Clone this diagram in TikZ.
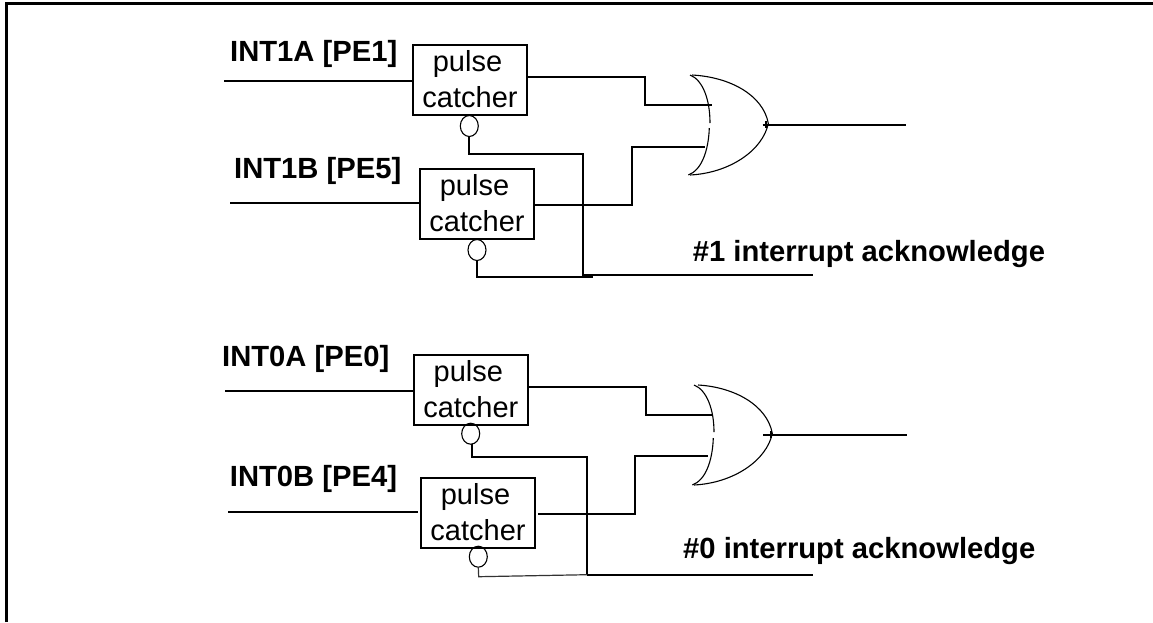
\documentclass[tikz,border=0pt]{standalone}
\usepackage{fontspec}
\setmainfont{Liberation Sans}
\usetikzlibrary{shapes.geometric}
\tikzset{
  wire/.style={line width=1.9pt},
  thinwire/.style={line width=1.2pt, draw=black!80},
  gateline/.style={line width=1.1pt},
  catcher/.style={draw, line width=1.9pt, rectangle, minimum width=114pt, minimum height=70pt, inner sep=0pt, align=center, font=\fontsize{29}{36}\selectfont},
  bubble/.style={draw, line width=1.1pt, ellipse, minimum width=18pt, minimum height=21pt, inner sep=0pt},
  lbl/.style={anchor=base west, inner sep=0pt, font=\fontsize{29.2}{34}\selectfont\bfseries},
}
\newcommand{\pctext}{\raisebox{1.3pt}{pulse\hspace{5pt}}\\\raisebox{1.3pt}{catcher}}
\begin{document}
\begin{tikzpicture}[x=1pt,y=-1pt]
\useasboundingbox (0,0) rectangle (1153,622);
\fill[white] (0,0) rectangle (1153,622);
\coordinate (bl) at (6.5,622);
\coordinate (tl) at (6.5,3.5);
\coordinate (tr) at (1153,3.5);
\draw[line width=3pt] (bl) -- (tl) -- (tr);
% top group
\node[catcher] (b1) at (470,80) {\pctext};
\node[catcher] (b2) at (477,204) {\pctext};
\node[bubble] (c1) at (469.3,126) {};
\node[bubble] (c2) at (477,250) {};
\coordinate (g1a) at (711.7,105);
\coordinate (g1b) at (705,146.7);
\coordinate (g1o) at (762.7,124.7);
\coordinate (o1) at (906,124.7);
\coordinate (i1a) at (224,81);
\coordinate (i1b) at (230,203);
\coordinate (j1) at (583,276.7);
\coordinate (e1) at (592.7,276.7);
\coordinate (a1s) at (583,274.7);
\coordinate (a1e) at (813,274.7);
\draw[wire] (i1a) -- (i1a -| b1.west);
\draw[wire] (i1b) -- (i1b -| b2.west);
\draw[wire] (527,76.7) -- (645,76.7) -- (645,105) -- (g1a);
\draw[wire] (534,204.7) -- (631.7,204.7) -- (631.7,146.7) -- (g1b);
\draw[wire] (g1o) -- (o1);
\draw[wire] (c1.south) -- (469.3,153.7) -- (583,153.7) -- (j1);
\draw[wire] (c2.south) -- (477,276.7) -- (e1);
\draw[wire] (a1s) -- (a1e);
\draw[gateline] (690,75) .. controls (703,80) and (710,100) .. (710,123);
\draw[gateline] (709.3,128) .. controls (708.5,150) and (702,170) .. (688.3,175);
\draw[gateline] (692,75) .. controls (730,77) and (763,95) .. (768.3,123.3) .. controls (763,150) and (730,173) .. (690,175);
\draw[gateline] (766,121) -- (766,128);
\node[lbl] (t1a) at (230,61.7) {INT1A [PE1]};
\node[lbl] (t1b) at (234,178.5) {INT1B [PE5]};
\node[lbl] (t1c) at (692.7,261.7) {\#1 interrupt acknowledge};
% bottom group
\node[catcher] (b3) at (470.8,390) {\pctext};
\node[catcher] (b4) at (478,512.8) {\pctext};
\node[bubble] (c3) at (470.7,433.7) {};
\node[bubble] (c4) at (478.3,556.7) {};
\coordinate (g0a) at (712.7,415);
\coordinate (g0b) at (708.3,455.7);
\coordinate (g0o) at (763.3,434.7);
\coordinate (o0) at (907,434.7);
\coordinate (i0a) at (225,391);
\coordinate (i0b) at (228,512);
\coordinate (i0be) at (417.7,512);
\coordinate (j0) at (587,574.7);
\coordinate (a0e) at (813,574.7);
\draw[wire] (i0a) -- (i0a -| b3.west);
\draw[wire] (i0b) -- (i0be);
\draw[wire] (528,386.7) -- (646,386.7) -- (646,415) -- (g0a);
\draw[wire] (538.3,513.7) -- (635,513.7) -- (635,455.7) -- (g0b);
\draw[wire] (g0o) -- (o0);
\draw[wire] (472.3,443.7) -- (472.3,456.7) -- (587,456.7) -- (j0);
\draw[wire] (j0) -- (a0e);
\draw[thinwire] (c4.south) -- (478.7,576.7) -- (j0);
\draw[gateline] (694,385) .. controls (707,390) and (714,410) .. (714,432);
\draw[gateline] (713.3,438) .. controls (712.5,460) and (706,480) .. (692.3,485);
\draw[gateline] (698,385) .. controls (734,387) and (767,405) .. (772.3,433.3) .. controls (767,460) and (734,483) .. (694,485);
\draw[gateline] (771,431) -- (771,438);
\node[lbl] (t0a) at (222,366.5) {INT0A [PE0]};
\node[lbl] (t0b) at (229.7,486.7) {INT0B [PE4]};
\node[lbl] (t0c) at (683,558.3) {\#0 interrupt acknowledge};
\end{tikzpicture}
\end{document}
